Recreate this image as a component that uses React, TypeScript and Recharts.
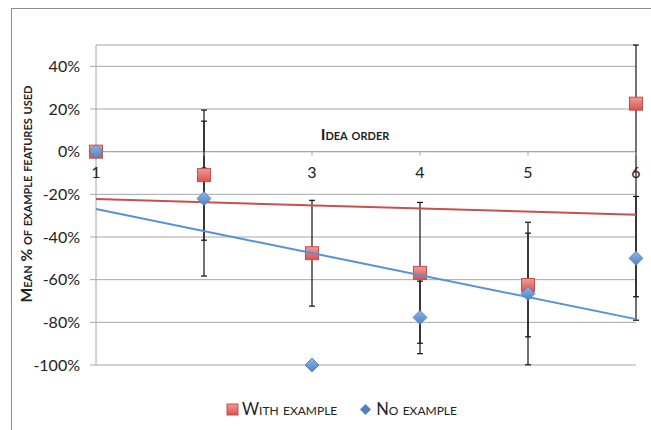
import {
  ScatterChart, Scatter, XAxis, YAxis, CartesianGrid, ReferenceLine, ReferenceDot, ErrorBar, Legend,
} from 'recharts'

const IDEA_ORDER = [1, 2, 3, 4, 5, 6]
const WITH_EXAMPLE = [0, -11, -47.6, -56.8, -62.5, 22.5]
// [down, up]; the last bar runs off the top of the plot
const WITH_EXAMPLE_ERR = [[0, 0], [30.5, 30.5], [24.8, 24.8], [33, 33], [24.3, 24.3], [90.5, 27.5]]
const NO_EXAMPLE = [0, -22, -100, -77.7, -66.5, -50]
const NO_EXAMPLE_ERR = [0, 36.3, 0, 17, 33.4, 29]
const Y_TICKS = [-100, -80, -60, -40, -20, 0, 20, 40]

const FONT = 'Lato, "Open Sans", sans-serif'
const GRID = '#a6a6a6'

const withData = IDEA_ORDER.map((x, i) => ({ x, y: WITH_EXAMPLE[i], err: WITH_EXAMPLE_ERR[i] }))
const noData = IDEA_ORDER.map((x, i) => ({ x, y: NO_EXAMPLE[i], err: NO_EXAMPLE_ERR[i] }))

const Square = (p: any) => (
  <rect x={p.cx - 6.5} y={p.cy - 6.5} width={13} height={13} fill="url(#redFill)" stroke="#c0504d" strokeWidth={1} />
)
const Diamond = (p: any) => (
  <path d={`M${p.cx},${p.cy - 7}L${p.cx + 7},${p.cy}L${p.cx},${p.cy + 7}L${p.cx - 7},${p.cy}Z`} fill="url(#blueFill)" stroke="#4a7ebb" strokeWidth={0.8} />
)
const Nothing = () => <g />

const XTick = (p: any) => (
  <g>
    <line x1={p.cx} y1={p.cy} x2={p.cx} y2={p.cy + 4} stroke={GRID} />
    <text x={p.cx} y={p.cy + 26} textAnchor="middle" fontFamily={FONT} fontSize={16} fill="#222">{p.label}</text>
  </g>
)

function LegendContent() {
  return (
    <div style={{ display: 'flex', justifyContent: 'center', alignItems: 'center', fontFamily: FONT, fontSize: 16.5, fontVariant: 'small-caps', color: '#222', paddingLeft: 32 }}>
      <svg width={13} height={13} style={{ marginRight: 3 }}>
        <rect x={1} y={1} width={11} height={11} fill="url(#redFill)" stroke="#c0504d" />
      </svg>
      <span style={{ marginRight: 22 }}>With example</span>
      <svg width={13} height={13} style={{ marginRight: 4 }}>
        <path d="M6.5,1L12,6.5L6.5,12L1,6.5Z" fill="#4f81bd" />
      </svg>
      <span>No example</span>
    </div>
  )
}

export default function App() {
  return (
    <div style={{ position: 'absolute', left: 0, top: 0, width: 651, height: 430, background: '#fff', overflow: 'hidden' }}>
      <div style={{ position: 'absolute', left: 11, top: 8, width: 700, height: 500, border: '1px solid #8c8c8c' }} />
      <ScatterChart width={651} height={430} margin={{ top: 45, right: 15, bottom: 65, left: 0 }}>
        <defs>
          <linearGradient id="redFill" x1="0" y1="0" x2="0" y2="1">
            <stop offset="0%" stopColor="#f29a97" />
            <stop offset="100%" stopColor="#d9534f" />
          </linearGradient>
          <linearGradient id="blueFill" x1="0" y1="0" x2="0" y2="1">
            <stop offset="0%" stopColor="#8fb4e8" />
            <stop offset="100%" stopColor="#4f81bd" />
          </linearGradient>
        </defs>
        <CartesianGrid horizontal vertical={false} stroke={GRID} />
        <XAxis type="number" dataKey="x" domain={[1, 6]} hide />
        <YAxis
          type="number" dataKey="y" domain={[-100, 50]} ticks={Y_TICKS} width={96}
          tickFormatter={(v) => `${v}%`} axisLine={{ stroke: GRID }} tickLine={{ stroke: GRID }}
          tickSize={6} tickMargin={10} tick={{ fontSize: 16, fontFamily: FONT, fill: '#222' }}
        />
        <ReferenceLine y={0} stroke={GRID} />
        {IDEA_ORDER.map(x => (
          <ReferenceDot key={x} x={x} y={0} ifOverflow="visible" shape={(p: any) => <XTick {...p} label={x} />} />
        ))}

        <Scatter name="With example err" data={withData} shape={Nothing} isAnimationActive={false} legendType="none">
          <ErrorBar dataKey="err" direction="y" width={3} stroke="#111" strokeWidth={1.2} />
        </Scatter>
        <Scatter name="No example err" data={noData} shape={Nothing} isAnimationActive={false} legendType="none">
          <ErrorBar dataKey="err" direction="y" width={3} stroke="#111" strokeWidth={1.2} />
        </Scatter>

        <Scatter name="With example" data={withData} shape={Square} line={{ stroke: '#c9504d', strokeWidth: 2 }} lineType="fitting" isAnimationActive={false} />
        <Scatter name="No example" data={noData} shape={Diamond} line={{ stroke: '#5592dc', strokeWidth: 2 }} lineType="fitting" isAnimationActive={false} />

        <text x={355} y={133} textAnchor="middle" dominantBaseline="central" fontFamily={FONT} fontWeight="bold" fontSize={16} fill="#222" style={{ fontVariant: 'small-caps' }}>
          Idea order
        </text>
        <text x={26} y={194} transform="rotate(-90, 26, 194)" textAnchor="middle" dominantBaseline="central" fontFamily={FONT} fontWeight="bold" fontSize={15.5} fill="#222" style={{ fontVariant: 'small-caps' }}>
          Mean % of example features used
        </text>

        <Legend verticalAlign="middle" align="center" content={<LegendContent />} wrapperStyle={{ top: 399, left: 0, width: 651 }} />
      </ScatterChart>
    </div>
  )
}
